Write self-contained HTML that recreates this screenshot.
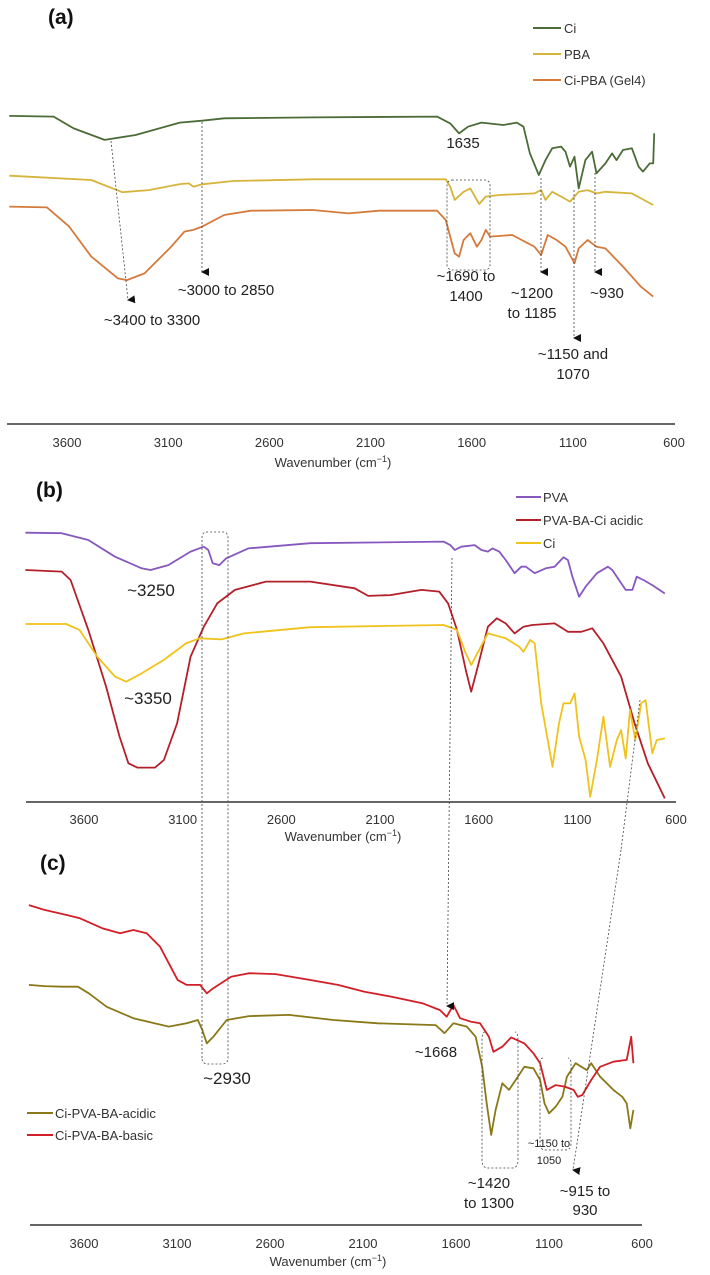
<!DOCTYPE html>
<html><head><meta charset="utf-8"><style>
html,body{margin:0;padding:0;background:#fff;}
svg{display:block;font-family:"Liberation Sans",Arial,sans-serif;}
.tk{font-size:13px;fill:#333;text-anchor:middle;}
.an{font-size:15px;fill:#222;text-anchor:middle;}
.lg{font-size:13px;fill:#333;}
.ttl{font-size:21px;font-weight:bold;fill:#111;}
.dash{stroke:#444;stroke-width:0.8;stroke-dasharray:2 2;fill:none;}
</style></head><body>
<svg id="chart" width="710" height="1275" viewBox="0 0 710 1275">
<defs><marker id="ah" markerWidth="8" markerHeight="8" refX="4" refY="7" orient="auto" markerUnits="userSpaceOnUse"><path d="M0,0 L8,0 L4,8 z" fill="#111"/></marker></defs>
<g id="gA"></g>
<g id="gB"></g>
<g id="gC"></g>
</svg>
<script>
const ticks=[3600,3100,2600,2100,1600,1100,600];
// Panel (a)
const aCiW=[3885,3666,3567,3414,3261,3042,2932,2823,2385,1771,1706,1662,1618,1552,1443,1377,1344,1312,1268,1235,1202,1158,1136,1114,1092,1071,1038,1005,983,939,906,884,852,808,775,753,720,703,698];
const aCiT=[76.7,76.4,71.5,66.7,68.75,73.9,74.7,75.7,76.1,76.4,73.6,69.4,72.2,73.9,72.9,73.9,72.2,61.1,52.1,58.3,63.2,63.9,61.8,55.6,59.7,46.5,58.3,61.8,52.8,56.9,61.1,58.3,62.5,63.2,55.6,53.5,56.9,56.9,69.4];
const aPbaW=[3885,3480,3326,3195,3042,2998,2976,2932,2779,2385,1728,1706,1684,1640,1607,1563,1530,1465,1290,1257,1235,1202,1158,1114,1071,1027,983,939,808,703];
const aPbaT=[51.8,50,44.9,45.8,48.3,48.6,47.2,48.2,49.6,50.3,50.3,47.2,41.7,45.1,46.5,40,43.1,43.75,44.4,45.8,41.7,45.1,43.1,41,45.1,45.8,44.4,45.1,44.4,39.6];
const aGelW=[3885,3699,3589,3480,3348,3304,3217,3085,3020,2976,2932,2823,2691,2385,2209,2056,1771,1728,1684,1662,1640,1607,1574,1552,1530,1509,1399,1290,1257,1224,1180,1136,1092,1071,1027,983,939,852,764,703];
const aGelT=[38.9,38.6,30.6,18.1,9.0,8.3,11.1,22.2,28.5,29.2,30.6,35.4,37.2,37.5,36.1,37.2,37.2,33.3,19.4,18.1,25,27.8,22.2,25,29.2,26.4,27.1,22.2,18.75,27.1,25,22.2,15.3,21.5,25,22.2,21.5,13.9,5.6,1.4];
// Panel (b)
const bPvaW=[3897,3713,3578,3443,3308,3263,3173,3060,2993,2970,2948,2914,2880,2768,2453,1778,1744,1721,1688,1620,1586,1553,1530,1496,1463,1418,1384,1361,1316,1260,1215,1170,1148,1125,1091,1058,1001,945,923,889,855,821,799,765,720,657];
const bPvaT=[99.0,98.8,96.3,90.1,85.8,85.2,87.0,92.0,93.8,92.6,87.7,87.0,89.5,93.2,95.1,95.7,94.4,92.6,93.8,94.4,92.6,92.0,93.2,92.0,88.9,84.0,86.4,86.4,84.0,85.8,86.4,89.9,88.9,82.7,75.3,79.0,84.0,86.4,85.2,81.5,77.8,77.8,82.7,81.5,79.6,76.5];
const bRedW=[3897,3713,3668,3578,3488,3420,3375,3330,3240,3195,3128,3060,2993,2925,2835,2678,2453,2228,2160,2048,1890,1800,1755,1710,1665,1638,1609,1553,1508,1463,1418,1373,1328,1215,1148,1080,1024,968,878,810,743,657];
const bRedT=[85.2,84.6,81.5,63.0,42.0,23.5,13.6,12.0,12.0,14.8,28.4,53.1,64.2,72.8,77.8,80.9,80.9,78.4,75.6,75.9,77.8,77.2,72.8,63.0,48.1,40.1,48.1,64.2,67.3,65.4,61.7,64.2,64.8,65.4,62.3,62.3,63.6,58.0,45.7,28.4,13.6,0.6];
const bCiW=[3897,3690,3623,3533,3443,3386,3308,3195,3083,3015,2903,2790,2453,1778,1710,1665,1638,1598,1553,1463,1395,1373,1339,1316,1283,1226,1193,1170,1136,1114,1091,1058,1035,1001,968,934,900,878,855,833,806,777,754,720,698,657];
const bCiT=[65.2,65.2,63.0,53.1,45.7,43.8,46.9,51.9,58.0,59.9,59.5,61.7,64.0,64.8,63.0,54.3,50.0,55.6,61.7,59.9,56.8,54.9,59.3,58.0,35.8,12.3,28.4,35.8,35.8,39.5,23.5,14.8,1.2,14.8,30.9,12.3,22.2,25.9,15.4,33.3,22.2,35.8,37.0,17.3,22.2,22.8];
// Panel (c)
const cBasW=[3896,3813,3693,3622,3502,3406,3335,3263,3191,3144,3096,3048,2976,2940,2905,2809,2713,2570,2379,2235,2092,1949,1781,1686,1650,1614,1578,1518,1471,1423,1399,1351,1303,1232,1184,1148,1112,1064,1016,968,945,921,873,825,754,682,658,646];
const cBasT=[98.3,96.7,95.0,93.9,90.6,88.9,90.0,88.9,84.4,78.9,73.3,71.7,71.7,68.9,70.6,74.4,75.6,75.3,73.3,71.7,69.4,67.8,65.6,63.3,61.1,65.0,60.6,59.4,58.9,54.4,49.4,51.1,54.2,52.2,48.9,45.6,36.7,38.3,37.8,36.7,34.4,35.0,40.0,44.4,46.1,46.7,54.4,45.6];
const cAcdW=[3896,3813,3717,3633,3574,3478,3335,3144,3048,2988,2964,2940,2905,2833,2713,2498,2259,2020,1709,1662,1614,1542,1494,1459,1435,1411,1387,1351,1315,1279,1232,1184,1148,1124,1100,1064,1028,1004,957,897,873,825,754,706,682,663,646];
const cAcdT=[71.7,71.3,71.1,71.1,68.9,64.4,60.6,57.8,58.9,60.0,56.7,52.2,54.4,60.0,61.3,61.7,60.0,58.9,58.3,55.6,58.9,57.8,54.4,44.4,32.2,21.7,30.0,38.9,36.7,40.0,44.4,43.9,40.0,32.2,28.9,31.1,34.4,41.1,45.6,43.3,45.6,41.1,36.7,34.4,32.2,23.9,30.0];

const NS='http://www.w3.org/2000/svg';
function el(tag,attrs,parent){const e=document.createElementNS(NS,tag);for(const k in attrs)e.setAttribute(k,attrs[k]);parent.appendChild(e);return e;}
function txt(s,x,y,cls,parent,extra){const t=el('text',Object.assign({x:x,y:y,class:cls},extra||{}),parent);t.textContent=s;return t;}
const panels=[
 {g:'gA',x0:67,x1:674,axL:7,axR:675,axY:424,top:60,k:2.4,tickY:447,labY:467},
 {g:'gB',x0:84,x1:676,axL:26,axR:676,axY:802,top:530,k:2.7,tickY:824,labY:841},
 {g:'gC',x0:84,x1:642,axL:30,axR:642,axY:1225,top:900,k:3.0,tickY:1248,labY:1266}
];
function sx(p,w){return p.x0+(3600-w)*(p.x1-p.x0)/3000;}
function sy(p,t){return p.top+(100-t)*p.k;}
function series(p,W,T,color,name){
 const g=document.getElementById(p.g);let d='';
 for(let i=0;i<W.length;i++){d+=(i?'L':'M')+sx(p,W[i]).toFixed(1)+','+sy(p,T[i]).toFixed(1);}
 const path=el('path',{d:d,fill:'none',stroke:color,'stroke-width':1.8,'stroke-linejoin':'round'},g);
 
 
}
panels.forEach((p,i)=>{
 const g=document.getElementById(p.g);
 const ax=el('line',{x1:p.axL,x2:p.axR,y1:p.axY,y2:p.axY,stroke:'#666','stroke-width':2},g);
 
 
 ticks.forEach(v=>{
  const t=txt(String(v),sx(p,v),p.tickY,'tk',g);
  
  
 });
 const xl=txt('Wavenumber (cm',(p.axL+p.axR)/2-8,p.labY,'tk',g);
 const sup=el('tspan',{dy:-5,'font-size':9},xl);sup.textContent='−1';
 const cl=el('tspan',{dy:5},xl);cl.textContent=')';
 
 
});
const [pa,pb,pc]=panels;
series(pa,aCiW,aCiT,'#4b6b37','series-ci-a');
series(pa,aPbaW,aPbaT,'#d6b43c','series-pba');
series(pa,aGelW,aGelT,'#d47a3c','series-ci-pba-gel4');
series(pb,bPvaW,bPvaT,'#8757c0','series-pva');
series(pb,bRedW,bRedT,'#b3202a','series-pva-ba-ci-acidic');
series(pb,bCiW,bCiT,'#f0c21c','series-ci-b');
series(pc,cAcdW,cAcdT,'#8a7818','series-ci-pva-ba-acidic');
series(pc,cBasW,cBasT,'#d21f27','series-ci-pva-ba-basic');
</script>
<svg width="0" height="0" style="position:absolute"></svg>
<script>
(function(){
const s=document.getElementById('chart');
const NS='http://www.w3.org/2000/svg';
const frag=`
<g>
<text class="ttl" x="48" y="24">(a)</text>
<text class="ttl" x="36" y="497">(b)</text>
<text class="ttl" x="40" y="870">(c)</text>
</g>
<g>
<line x1="533" x2="561" y1="28" y2="28" stroke="#4b6b37" stroke-width="2"/><text class="lg" x="564" y="33">Ci</text>
<line x1="533" x2="561" y1="54" y2="54" stroke="#d6b43c" stroke-width="2"/><text class="lg" x="564" y="59">PBA</text>
<line x1="533" x2="561" y1="80" y2="80" stroke="#d47a3c" stroke-width="2"/><text class="lg" x="564" y="85">Ci-PBA (Gel4)</text>
</g>
<g>
<line x1="516" x2="541" y1="497" y2="497" stroke="#8757c0" stroke-width="2"/><text class="lg" x="543" y="502">PVA</text>
<line x1="516" x2="541" y1="520" y2="520" stroke="#b3202a" stroke-width="2"/><text class="lg" x="543" y="525">PVA-BA-Ci acidic</text>
<line x1="516" x2="541" y1="543" y2="543" stroke="#f0c21c" stroke-width="2"/><text class="lg" x="543" y="548">Ci</text>
</g>
<g>
<line x1="27" x2="53" y1="1113" y2="1113" stroke="#8a7818" stroke-width="2"/><text class="lg" x="55" y="1118">Ci-PVA-BA-acidic</text>
<line x1="27" x2="53" y1="1135" y2="1135" stroke="#d21f27" stroke-width="2"/><text class="lg" x="55" y="1140">Ci-PVA-BA-basic</text>
</g>
<g>
<line class="dash" x1="111" y1="141" x2="128" y2="300" marker-end="url(#ah)"/>
<line class="dash" x1="202" y1="122" x2="202" y2="272" marker-end="url(#ah)"/>
<line class="dash" x1="541" y1="178" x2="541" y2="272" marker-end="url(#ah)"/>
<line class="dash" x1="574" y1="190" x2="574" y2="338" marker-end="url(#ah)"/>
<line class="dash" x1="595" y1="173" x2="595" y2="272" marker-end="url(#ah)"/>
<rect class="dash" x="447" y="180" width="43" height="90" rx="5"/>
<text class="an" x="463" y="148">1635</text>
<text class="an" x="226" y="295">~3000 to 2850</text>
<text class="an" x="152" y="325">~3400 to 3300</text>
<text class="an" x="466" y="281">~1690 to</text><text class="an" x="466" y="301">1400</text>
<text class="an" x="532" y="298">~1200</text><text class="an" x="532" y="318">to 1185</text>
<text class="an" x="607" y="298">~930</text>
<text class="an" x="573" y="359">~1150 and</text><text class="an" x="573" y="379">1070</text>
</g>
<g>
<path class="dash" d="M202,1058 L202,538 Q202,532 207,532 L223,532 Q228,532 228,538 L228,1058 Q228,1064 222,1064 L208,1064 Q202,1064 202,1058"/>
<line class="dash" x1="452" y1="558" x2="447" y2="1006" marker-end="url(#ah)"/>
<line class="dash" x1="621" y1="850" x2="573" y2="1170" marker-end="url(#ah)"/>
<line class="dash" x1="640" y1="700" x2="621" y2="850"/>
<path class="dash" d="M485,1032 Q482,1032 482,1040 L482,1160 Q482,1168 488,1168 L512,1168 Q518,1168 518,1160 L518,1040 Q518,1032 515,1032"/>
<path class="dash" d="M543,1058 Q540,1058 540,1064 L540,1144 Q540,1150 546,1150 L565,1150 Q571,1150 571,1144 L571,1064 Q571,1058 568,1058"/>
<text class="an" x="151" y="596" style="font-size:17px">~3250</text>
<text class="an" x="148" y="704" style="font-size:17px">~3350</text>
<text class="an" x="227" y="1084" style="font-size:17px">~2930</text>
<text class="an" x="436" y="1057">~1668</text>
<text class="an" x="489" y="1188">~1420</text><text class="an" x="489" y="1208">to 1300</text>
<text class="an" x="549" y="1147" style="font-size:11px">~1150 to</text><text class="an" x="549" y="1164" style="font-size:11px">1050</text>
<text class="an" x="585" y="1196">~915 to</text><text class="an" x="585" y="1215">930</text>
</g>`;
const tmp=document.createElementNS(NS,'g');
tmp.innerHTML=frag;
while(tmp.firstChild)s.appendChild(tmp.firstChild);
})();
</script>
</body></html>
